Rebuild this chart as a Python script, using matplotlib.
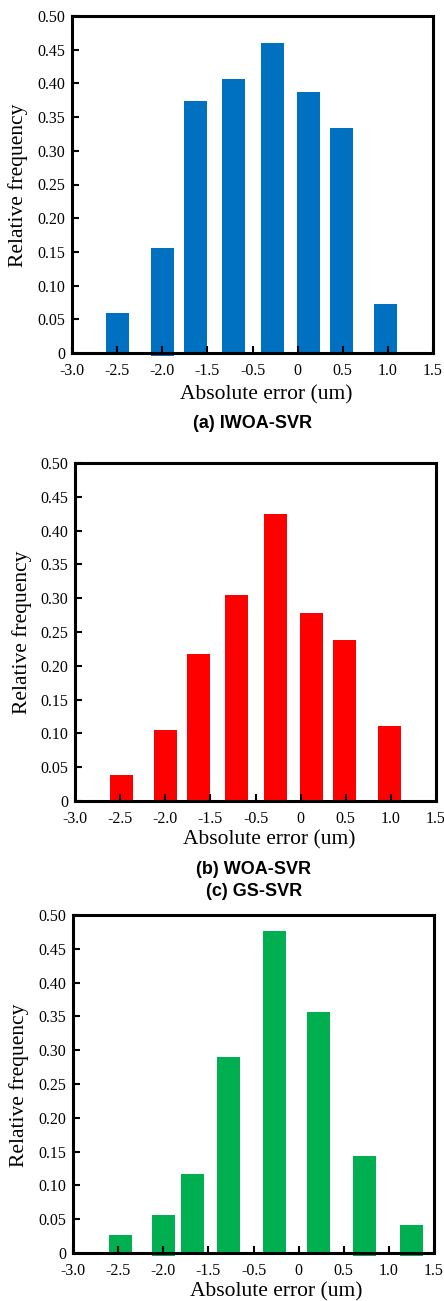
import matplotlib.pyplot as plt

# tick labels along the x axis (evenly spaced, as in the original figure)
xtick_labels = ['-3.0', '-2.5', '-2.0', '-1.5', '-0.5', '0', '0.5', '1.0', '1.5']
ytick_vals = [0, 0.05, 0.10, 0.15, 0.20, 0.25, 0.30, 0.35, 0.40, 0.45, 0.50]
ytick_labels = ['0', '0.05', '0.10', '0.15', '0.20', '0.25', '0.30', '0.35', '0.40', '0.45', '0.50']

# (a) IWOA-SVR
x_a = [1.0, 2.0, 2.74, 3.58, 4.45, 5.24, 5.98, 6.95]
freq_a = [0.060, 0.156, 0.374, 0.407, 0.460, 0.387, 0.334, 0.073]
base_a = [0, -0.005, -0.0015, -0.003, 0, 0, 0, 0]

# (b) WOA-SVR
x_b = [1.04, 2.0, 2.73, 3.57, 4.44, 5.24, 5.97, 6.97]
freq_b = [0.038, 0.105, 0.217, 0.305, 0.425, 0.278, 0.238, 0.111]
base_b = [-0.003, -0.003, 0, 0, 0, 0, -0.003, 0]

# (c) GS-SVR
x_c = [1.05, 2.0, 2.65, 3.45, 4.47, 5.45, 6.45, 7.5]
freq_c = [0.026, 0.056, 0.117, 0.290, 0.476, 0.356, 0.143, 0.042]
base_c = [0, -0.005, 0, 0, 0, 0, -0.005, -0.005]

W, H = 444, 1301
fig = plt.figure(figsize=(W / 100, H / 100), dpi=100)

serif = 'Liberation Serif'
sans = 'Liberation Sans'


def panel(rect, xs, ys, base, color):
    l, t, r, b = rect
    ax = fig.add_axes([l / W, 1 - b / H, (r - l) / W, (b - t) / H])
    heights = [y - b0 for y, b0 in zip(ys, base)]
    ax.bar(xs, heights, bottom=base, width=0.51, color=color, clip_on=False, zorder=1)
    ax.set_xlim(0, 8)
    ax.set_ylim(0, 0.5)
    ax.set_xticks(range(9))
    ax.set_xticklabels(xtick_labels, fontfamily=serif, fontsize=11.5)
    ax.set_yticks(ytick_vals)
    ax.set_yticklabels(ytick_labels, fontfamily=serif, fontsize=11.5)
    ax.tick_params(direction='in', length=5, width=1.5)
    ax.tick_params(axis='x', pad=7)
    ax.tick_params(axis='y', pad=5)
    for s in ax.spines.values():
        s.set_linewidth(2.2)
    return ax


ax1 = panel((72, 16, 433, 353), x_a, freq_a, base_a, '#0070C0')
ax2 = panel((75, 463, 436, 801), x_b, freq_b, base_b, '#FF0000')
ax3 = panel((73, 915, 434, 1253), x_c, freq_c, base_c, '#00B050')

# axis labels and captions
for (xl_x, xl_y, yl_x, yl_y) in [(266, 395, 18, 185), (269, 840, 22, 632), (276, 1292, 19, 1085)]:
    fig.text(xl_x / W, 1 - xl_y / H, 'Absolute error (um)', fontfamily=serif,
             fontsize=15.5, ha='center', va='center')
    fig.text(yl_x / W, 1 - yl_y / H, 'Relative frequency', fontfamily=serif,
             fontsize=15.5, ha='center', va='center', rotation=90)

fig.text(253 / W, 1 - 423 / H, '(a) IWOA-SVR', fontfamily=sans, fontweight='bold',
         fontsize=13, ha='center', va='center')
fig.text(254 / W, 1 - 869 / H, '(b) WOA-SVR', fontfamily=sans, fontweight='bold',
         fontsize=13, ha='center', va='center')
fig.text(254 / W, 1 - 891 / H, '(c) GS-SVR', fontfamily=sans, fontweight='bold',
         fontsize=13, ha='center', va='center')

fig.savefig('out.png', dpi=100)
